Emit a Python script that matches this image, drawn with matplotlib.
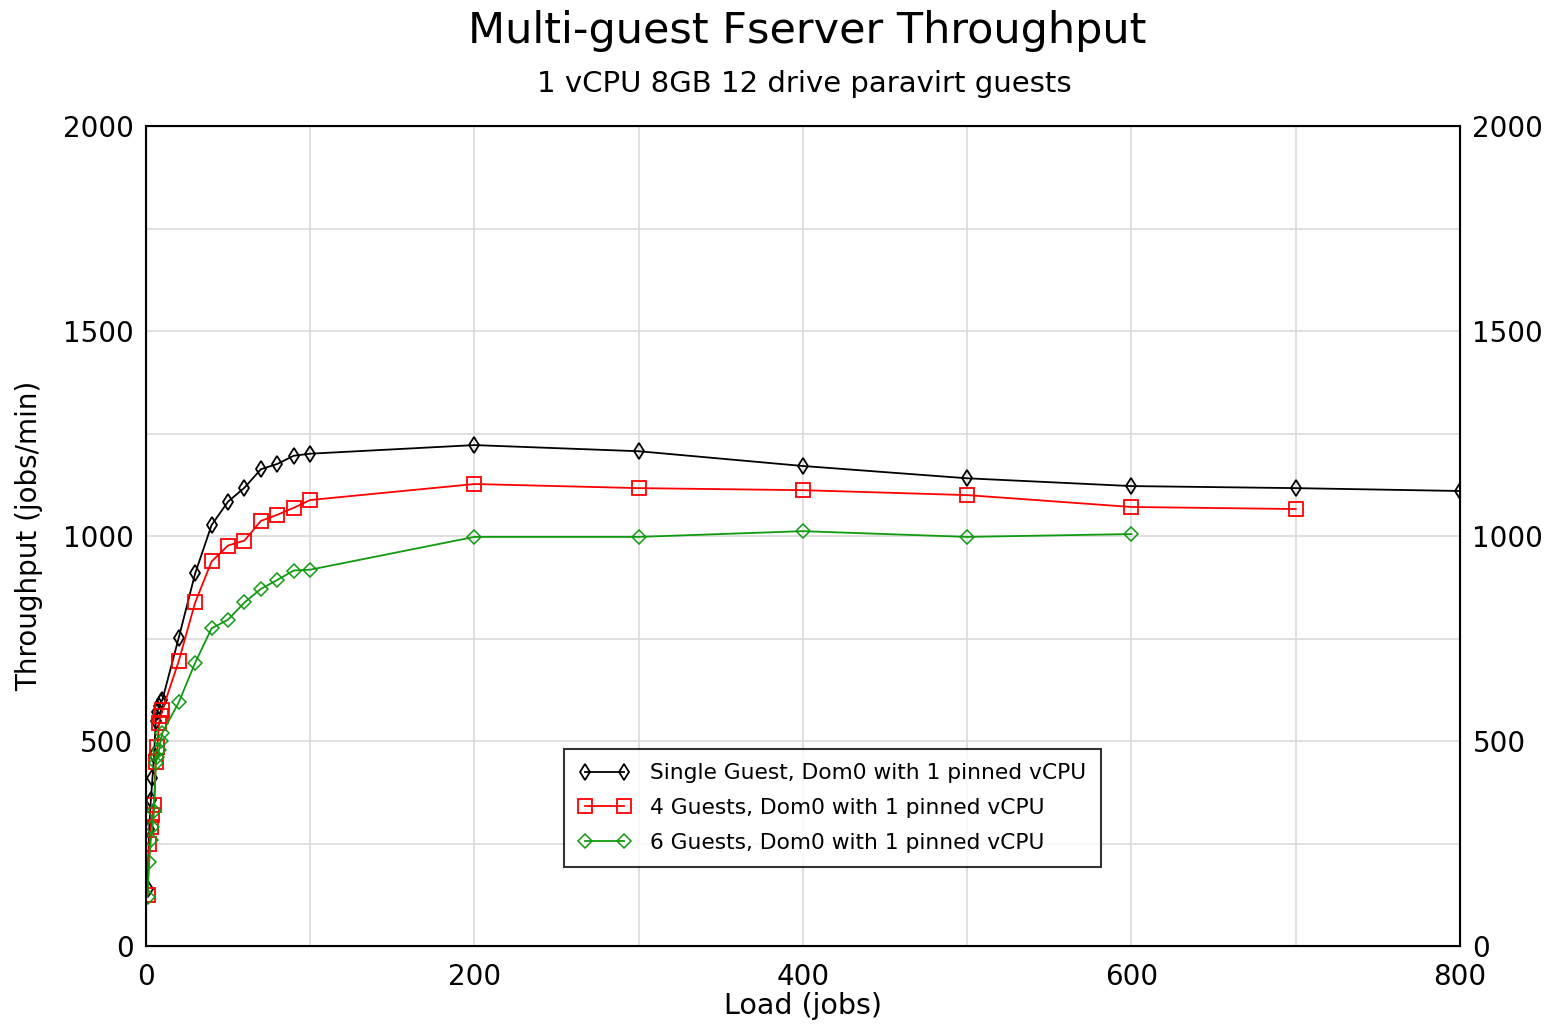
import numpy as np
import matplotlib.pyplot as plt
from matplotlib.ticker import MultipleLocator

plt.rcParams['font.family'] = ['DejaVu Sans']

load = [1, 2, 3, 4, 5, 6, 7, 8, 9, 10,
        20, 30, 40, 50, 60, 70, 80, 90, 100,
        200, 300, 400, 500, 600, 700, 800]

single = [140, 285, 355, 410, 465, 550, 570, 585, 595, 600,
          752, 909, 1027, 1084, 1118, 1163, 1176, 1196, 1201,
          1222, 1207, 1171, 1141, 1122, 1117, 1110]

load4 = load[:-1]
guests4 = [125, 250, 290, 320, 345, 450, 485, 545, 560, 575,
           695, 838, 938, 977, 989, 1037, 1052, 1069, 1088,
           1127, 1117, 1112, 1100, 1071, 1066]

load6 = load[:-2]
guests6 = [120, 205, 258, 290, 330, 446, 460, 478, 500, 520,
           594, 691, 775, 796, 838, 871, 893, 916, 918,
           998, 998, 1012, 998, 1005]

labels = ["Single Guest, Dom0 with 1 pinned vCPU",
          "4 Guests, Dom0 with 1 pinned vCPU",
          "6 Guests, Dom0 with 1 pinned vCPU"]

fig = plt.figure(figsize=(15.52, 10.26), dpi=100)
ax = fig.add_axes([0.094, 0.078, 0.8467, 0.799])

ax.plot(load, single, color="black", lw=1.3, marker="d", markersize=8,
        markerfacecolor="none", markeredgewidth=1.3, label=labels[0])
ax.plot(load4, guests4, color="red", lw=1.3, marker="s", markersize=10,
        markerfacecolor="none", markeredgewidth=1.3, label=labels[1])
ax.plot(load6, guests6, color="#109a10", lw=1.3, marker="D", markersize=7,
        markerfacecolor="none", markeredgewidth=1.1, label=labels[2])

ax.set_xlim(0, 800)
ax.set_ylim(0, 2000)
ax.xaxis.set_major_locator(MultipleLocator(200))
ax.xaxis.set_minor_locator(MultipleLocator(100))
ax.yaxis.set_major_locator(MultipleLocator(500))
ax.yaxis.set_minor_locator(MultipleLocator(250))
ax.grid(True, which="both", color="#dddddd", lw=1.3)
ax.set_axisbelow(True)
ax.tick_params(which="both", length=0, labelsize=20, pad=9)
ax.tick_params(axis="x", pad=12)
for s in ax.spines.values():
    s.set_linewidth(1.5)

ax2 = ax.twinx()
ax2.set_ylim(0, 2000)
ax2.yaxis.set_major_locator(MultipleLocator(500))
ax2.tick_params(length=0, labelsize=20, pad=9)

ax.set_xlabel("Load (jobs)", fontsize=20.5, labelpad=1)
ax.set_ylabel("Throughput (jobs/min)", fontsize=20, labelpad=14)

fig.text(0.52, 0.97, "Multi-guest Fserver Throughput", fontsize=31,
         ha="center", va="center")
fig.text(0.518, 0.918, "1 vCPU 8GB 12 drive paravirt guests", fontsize=21,
         ha="center", va="center")

leg = ax.legend(loc="lower center", bbox_to_anchor=(0.5225, 0.0963), numpoints=2,
                fontsize=15.7, frameon=True, fancybox=False, edgecolor="black",
                handlelength=2.4, handletextpad=0.9, borderpad=0.65,
                labelspacing=0.68, borderaxespad=0)
leg.get_frame().set_linewidth(1.5)
leg.set_zorder(10)

fig.savefig("out.png", dpi=100)
